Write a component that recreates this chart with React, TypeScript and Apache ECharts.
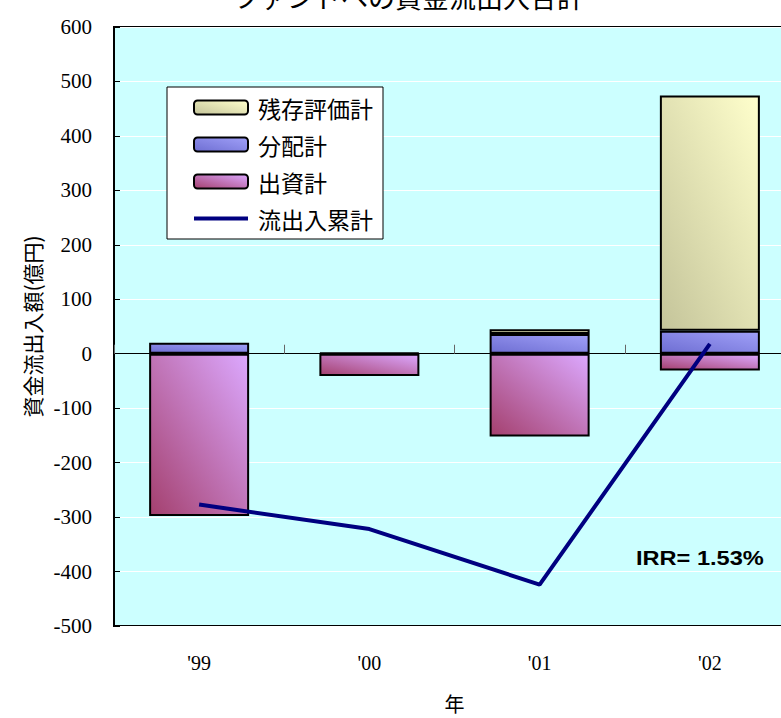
import React, { useEffect, useRef } from "react";
import * as echarts from "echarts";

const categories = ["'99", "'00", "'01", "'02"];
const shusshi = [-298, -41, -152, -31];
const haibun = [20, 2, 36, 42];
const zanzon: (number | null)[] = [null, null, 9, 432];
const ruikei = [-277, -322, -424, 18];
const yTicks = { min: -500, max: 600, interval: 100 };

const grad = (a: string, b: string) =>
  new echarts.graphic.LinearGradient(0, 1, 1, 0, [
    { offset: 0, color: a },
    { offset: 1, color: b },
  ]);

export default function App() {
  const ref = useRef<HTMLDivElement>(null);
  useEffect(() => {
    document.body.style.margin = "0";
    if (!ref.current) return;
    const chart = echarts.init(ref.current, null, { renderer: "svg" });
    const serif = "'Liberation Serif', 'Times New Roman', serif";
    const cjk = "'Noto Sans CJK JP', sans-serif";
    chart.setOption({
      animation: false,
      grid: {
        left: 114,
        top: 27,
        right: 5,
        bottom: 92,
        outerBoundsMode: "none",
        containLabel: false,
        show: true,
        backgroundColor: "#ccffff",
        borderColor: "#000",
        borderWidth: 2,
      },
      legend: {
        orient: "vertical",
        left: 167,
        top: 87,
        backgroundColor: "#fff",
        borderColor: "#000",
        borderWidth: 1,
        borderRadius: 0,
        padding: [9, 10, 9, 26],
        itemWidth: 54,
        itemHeight: 14,
        itemGap: 14,
        textStyle: { fontFamily: cjk, fontSize: 23, color: "#000", lineHeight: 23, padding: [0, 0, 0, 5] },
        data: [
          { name: "残存評価計" },
          { name: "分配計" },
          { name: "出資計" },
          { name: "流出入累計", icon: "path://M0,0 L54,0 L54,4 L0,4 Z" },
        ],
      },
      xAxis: [
        {
          type: "category",
          data: categories,
          position: "bottom",
          axisLine: { show: false, onZero: false },
          axisTick: { show: false },
          axisLabel: { fontFamily: serif, fontSize: 20, color: "#000", margin: 27 },
          name: "年",
          nameLocation: "middle",
          nameGap: 67,
          nameTextStyle: { fontFamily: cjk, fontSize: 20, color: "#000" },
          splitLine: { show: false },
        },
        {
          type: "category",
          data: categories,
          position: "bottom",
          axisLine: { show: true, onZero: true, lineStyle: { color: "#000", width: 1 } },
          axisTick: { show: true, inside: true, length: 9, lineStyle: { color: "#666", width: 1 } },
          axisLabel: { show: false },
          splitLine: { show: false },
        },
      ],
      yAxis: {
        type: "value",
        min: yTicks.min,
        max: yTicks.max,
        interval: yTicks.interval,
        axisLine: { show: true, lineStyle: { color: "#000", width: 2 } },
        axisTick: { show: true, inside: true, length: 6, lineStyle: { color: "#000" } },
        axisLabel: { fontFamily: serif, fontSize: 21, color: "#000", margin: 22 },
        splitLine: { show: true, lineStyle: { color: "#fff", width: 1 } },
        name: "資金流出入額(億円)",
        nameLocation: "middle",
        nameGap: 70,
        nameTextStyle: { fontFamily: cjk, fontSize: 21, color: "#000" },
      },
      series: [
        {
          name: "出資計",
          type: "bar",
          stack: "s",
          barWidth: 100,
          data: shusshi,
          itemStyle: { color: grad("#a4406e", "#dca8ff"), borderColor: "#000", borderWidth: 2 },
        },
        {
          name: "分配計",
          type: "bar",
          stack: "s",
          barWidth: 100,
          data: haibun,
          itemStyle: { color: grad("#6e6ed2", "#a0a0f8"), borderColor: "#000", borderWidth: 2 },
        },
        {
          name: "残存評価計",
          type: "bar",
          stack: "s",
          barWidth: 100,
          data: zanzon,
          itemStyle: { color: grad("#c4c49a", "#ffffcc"), borderColor: "#000", borderWidth: 2 },
        },
        {
          name: "流出入累計",
          type: "line",
          data: ruikei,
          symbol: "none",
          z: 10,
          itemStyle: { color: "#000080" },
          lineStyle: { color: "#000080", width: 4 },
        },
      ],
      graphic: [
        {
          type: "text",
          left: 233,
          top: -17,
          style: { text: "ファンドへの資金流出入合計", fontFamily: cjk, fontSize: 27, fill: "#000" },
        },
        {
          type: "text",
          x: 636,
          y: 548,
          scaleX: 1.18,
          style: { text: "IRR= 1.53%", fontFamily: "'Liberation Sans', Arial, sans-serif", fontWeight: "bold", fontSize: 20, fill: "#000" },
        },
      ],
    });
    return () => chart.dispose();
  }, []);
  return (
    <div style={{ width: 781, height: 718, overflow: "hidden", position: "relative" }}>
      <div ref={ref} style={{ width: 800, height: 718 }} />
    </div>
  );
}
